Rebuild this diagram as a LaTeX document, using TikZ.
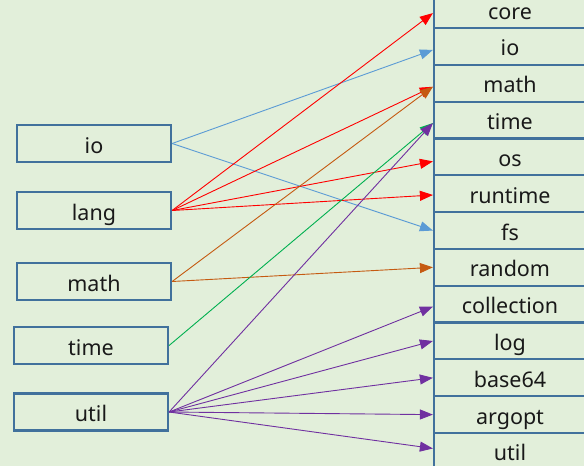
\documentclass[tikz,border=0pt]{standalone}
\usepackage{fontspec}
\setmainfont{Noto Sans}
\usetikzlibrary{arrows.meta,calc}
\definecolor{bg}{HTML}{E2EFDA}
\definecolor{boxline}{HTML}{41719C}
\definecolor{cblue}{HTML}{5B9BD5}
\definecolor{cred}{HTML}{FF0000}
\definecolor{corange}{HTML}{C55A11}
\definecolor{cgreen}{HTML}{00B050}
\definecolor{cpurple}{HTML}{7030A0}
\tikzset{
  boxbase/.style={draw=boxline, line width=2.2pt, inner sep=0pt, text height=19pt, text depth=0pt, font=\fontsize{21.5}{24}\selectfont, text=black!90},
  lbox/.style={boxbase, minimum width=154pt, minimum height=37pt},
  rbox/.style={boxbase, minimum width=152pt, minimum height=36.82pt},
  arr/.style={line width=0.9pt, -{Triangle[length=13pt,width=10pt]}}
}
\begin{document}
\begin{tikzpicture}[x=1pt,y=-1pt]
\fill[bg] (0,0) rectangle (584,466);
\useasboundingbox (0,0) rectangle (584,466);
\begin{scope}
\clip (0,0) rectangle (584,466);
\node[lbox] (lio) at (94,143.5) {io};
\node[lbox] (llang) at (94,210.5) {lang};
\node[lbox] (lmath) at (94,281.5) {math};
\node[lbox] (ltime) at (91,345.5) {time};
\node[lbox] (lutil) at (91,412) {util};
\foreach \n/\t [count=\k from 0] in {rcore/core,rio/io,rmath/math,rtime/time,ros/os,rrun/runtime,rfs/fs,rrand/random,rcoll/collection,rlog/log,rb64/base64,rarg/argopt,rutil/util}{
  \node[rbox] (\n) at (510,{9.6+36.82*\k}) {\t};
}
\coordinate (tcore) at ($(rcore.west)+(0,3.5)$);
\coordinate (tio) at ($(rio.west)+(0,3.5)$);
\coordinate (tmath) at ($(rmath.west)+(0,3.5)$);
\coordinate (ttime) at ($(rtime.west)+(0,3)$);
\coordinate (tos) at ($(ros.west)+(0,4.5)$);
\coordinate (trun) at ($(rrun.west)+(0,1.3)$);
\coordinate (tcoll) at ($(rcoll.west)+(0,2.5)$);
\coordinate (tutil) at ($(rutil.west)+(0,-3)$);
% io
\draw[arr, cblue] (lio.east) -- (tio);
\draw[arr, cblue] (lio.east) -- (rfs.west);
% lang
\draw[arr, cred] (llang.east) -- (tcore);
\draw[arr, cred] (llang.east) -- (tmath);
\draw[arr, cred] (llang.east) -- (tos);
\draw[arr, cred] (llang.east) -- (trun);
% math
\draw[arr, corange] (lmath.east) -- (tmath);
\draw[arr, corange] (lmath.east) -- (rrand.west);
% time
\draw[arr, cgreen] (ltime.east) -- (ttime);
% util
\draw[arr, cpurple] (lutil.east) -- (ttime);
\draw[arr, cpurple] (lutil.east) -- (tcoll);
\draw[arr, cpurple] (lutil.east) -- (rlog.west);
\draw[arr, cpurple] (lutil.east) -- (rb64.west);
\draw[arr, cpurple] (lutil.east) -- (rarg.west);
\draw[arr, cpurple] (lutil.east) -- (tutil);
\end{scope}
\end{tikzpicture}
\end{document}
